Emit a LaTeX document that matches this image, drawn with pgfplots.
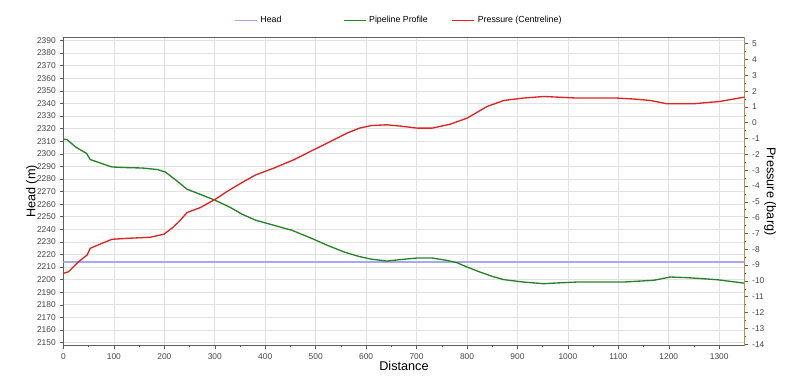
\documentclass[border=0pt]{standalone}
\usepackage{fontspec}
\setmainfont{Liberation Sans}
\usepackage{pgfplots}
\pgfplotsset{compat=1.18}
\definecolor{headcol}{RGB}{168,168,238}
\definecolor{profcol}{RGB}{40,130,40}
\definecolor{prescol}{RGB}{222,35,35}
\definecolor{tanax}{RGB}{190,140,80}
\definecolor{gridc}{RGB}{226,226,226}
\definecolor{axc}{RGB}{95,95,95}
\definecolor{tickc}{RGB}{70,70,70}
\begin{document}
\begin{tikzpicture}
\path[use as bounding box] (-47.6pt,-31pt) rectangle (552.4pt,259.3pt);
\pgfplotsset{
  common/.style={
    scale only axis, width=510.75pt, height=231.3pt,
    xmin=0, xmax=1350,
    /pgf/number format/assume math mode=true,
    /pgf/number format/1000 sep={},
    tick align=outside,
    major tick length=2.3pt, minor tick length=1.3pt,
    tick style={draw=axc, line width=0.4pt},
    tick label style={font=\fontsize{6.3}{7.5}\selectfont, text=tickc},
  }
}
\begin{axis}[common,
  ymin=2147.5, ymax=2392.5,
  xtick={0,100,...,1300}, ytick={2150,2160,...,2390},
  minor x tick num=1,
  xtick pos=bottom, ytick pos=left,
  grid=major, major grid style={draw=gridc, line width=0.5pt},
  axis line style={draw=axc, line width=0.6pt},
  xlabel={Distance}, ylabel={Head (m)},
  xlabel style={font=\fontsize{9.5}{11}\selectfont, at={(axis description cs:0.5,0)}, anchor=center, yshift=-15.3pt},
  ylabel style={font=\fontsize{9.5}{11}\selectfont, at={(axis description cs:0,0.5)}, anchor=center, yshift=23.6pt},
  legend columns=3,
  legend style={draw=none, fill=none, font=\fontsize{6.6}{8}\selectfont,
    at={(axis description cs:0.4905,1)}, anchor=center, yshift=12.5pt},
  legend image code/.code={\draw[#1] (0pt,0pt) -- (16.5pt,0pt);},
]
\addplot[headcol, line width=1pt] coordinates {(0,2214) (1350,2214)};
\addlegendentry{\makebox[60pt][l]{Head}}
\addplot[profcol, line width=1pt] coordinates {
(0,2311.5) (7,2311.3) (24,2305.4) (46,2300.2) (53,2295.4) (67,2293.5)
(96,2289.5) (126,2289) (156,2288.7) (186,2287.5) (202,2285.5) (225,2278.4)
(245,2271.8) (271,2267.8) (301,2263) (331,2257.3) (354,2252) (381,2247.2)
(417,2243.2) (453,2239.2) (496,2232.1) (523,2227.3) (559,2221.6) (587,2218.3)
(610,2216.3) (641,2214.8) (670,2216) (701,2217.2) (731,2217.2) (760,2215.3)
(780,2213.5) (800,2210) (826,2206) (850,2202.6) (873,2200) (912,2198.1)
(952,2196.8) (985,2197.5) (1018,2198.1) (1110,2198.1) (1170,2199.5)
(1203,2202.1) (1236,2201.6) (1295,2200) (1350,2197.2)};
\addlegendentry{\makebox[60pt][l]{Pipeline Profile}}
\addlegendimage{prescol, line width=1pt}
\addlegendentry{\makebox[60pt][l]{Pressure (Centreline)}}
\end{axis}
\begin{axis}[common,
  ymin=-14.1, ymax=5.4,
  axis x line=none, axis y line*=right,
  ytick={-14,-13,...,5},
  yticklabels={-14,-13,-12,-11,-10,-9,-8,-7,-6,-5,-4,-3,-2,-1,0,1,2,3,4,5},
  minor y tick num=1,
  y axis line style={draw=tanax, line width=1pt},
  ylabel={Pressure (barg)},
  ylabel style={font=\fontsize{9.5}{11}\selectfont, at={(axis description cs:1,0.5)}, anchor=center, yshift=-19.3pt, rotate=180},
]
\addplot[prescol, line width=1pt] coordinates {
(0,-9.52) (10,-9.42) (30,-8.79) (47,-8.36) (53,-7.94) (73,-7.67) (96,-7.37)
(126,-7.31) (172,-7.24) (199,-7.05) (215,-6.67) (229,-6.25) (245,-5.68)
(271,-5.37) (301,-4.84) (324,-4.35) (354,-3.78) (381,-3.30) (417,-2.87)
(456,-2.35) (496,-1.71) (536,-1.08) (562,-0.66) (587,-0.34) (610,-0.18)
(641,-0.13) (670,-0.22) (701,-0.34) (731,-0.34) (767,-0.09) (800,0.29)
(840,1.03) (873,1.41) (912,1.56) (952,1.66) (1018,1.56) (1097,1.56)
(1130,1.50) (1163,1.41) (1196,1.20) (1249,1.20) (1302,1.35) (1350,1.62)};
\end{axis}
\end{tikzpicture}
\end{document}
